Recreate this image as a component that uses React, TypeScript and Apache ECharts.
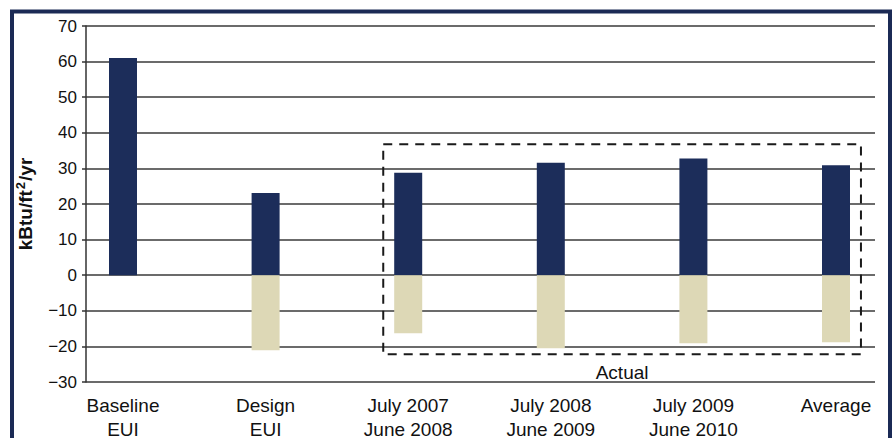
import React, { useEffect, useRef } from "react";
import * as echarts from "echarts";

const categories = ["Baseline\nEUI", "Design\nEUI", "July 2007\nJune 2008", "July 2008\nJune 2009", "July 2009\nJune 2010", "Average"];
const positiveValues = [61, 23.1, 28.8, 31.6, 32.8, 30.9];
const negativeValues = [0, -21.1, -16.3, -20.5, -19.1, -18.8];
const yTicks = { min: -30, max: 70, interval: 10 };
// dashed "Actual" box: from category index, to category index, top value, bottom value
const actualBox = [[2, 5, 36.8, -22.2]];
const actualLabel = "Actual";

const FONT = '"Liberation Sans", Arial, Helvetica, sans-serif';

export default function App() {
  const ref = useRef<HTMLDivElement>(null);
  useEffect(() => {
    if (!ref.current) return;
    const chart = echarts.init(ref.current, null, { renderer: "svg" });
    const fmt = (v: number) => String(v).replace("-", "\u2212");
    chart.setOption({
      animation: false,
      backgroundColor: "#ffffff",
      textStyle: { fontFamily: FONT },
      grid: [
        { left: 86, right: 18, top: 26, bottom: 56, containLabel: false, outerBoundsMode: "none" },
        { left: 123, right: 57, top: 26, bottom: 56, containLabel: false, outerBoundsMode: "none" },
      ],
      xAxis: [
        { type: "category", gridIndex: 0, data: categories, show: false },
        {
          type: "category",
          gridIndex: 1,
          data: categories,
          boundaryGap: false,
          axisLine: { show: false },
          axisTick: { show: false },
          axisLabel: { color: "#111", fontSize: 19, lineHeight: 24, margin: 11, fontFamily: FONT, interval: 0 },
        },
      ],
      yAxis: [
        {
          type: "value",
          gridIndex: 0,
          min: yTicks.min,
          max: yTicks.max,
          interval: yTicks.interval,
          name: "{a|kBtu/ft}{b|2}{a|/yr}",
          nameLocation: "middle",
          nameGap: 50,
          nameTextStyle: {
            color: "#111",
            fontFamily: FONT,
            rich: {
              a: { fontSize: 19, fontWeight: "bold", fontFamily: FONT, color: "#111", lineHeight: 22 },
              b: { fontSize: 13, fontWeight: "bold", fontFamily: FONT, color: "#111", verticalAlign: "top", lineHeight: 22, padding: [0, 1, 8, 1] },
            },
          },
          axisLine: { show: true, lineStyle: { color: "#333", width: 1.5 } },
          axisTick: { show: true, length: 4, lineStyle: { color: "#333", width: 1.5 } },
          axisLabel: { color: "#111", fontSize: 17, margin: 9, formatter: fmt, fontFamily: FONT },
          splitLine: { show: true, lineStyle: { color: "#3a3a3a", width: 1.5 } },
        },
        {
          type: "value",
          gridIndex: 1,
          min: yTicks.min,
          max: yTicks.max,
          interval: yTicks.interval,
          show: false,
          splitLine: { show: false },
        },
      ],
      series: [
        {
          type: "bar",
          xAxisIndex: 1,
          yAxisIndex: 1,
          data: positiveValues,
          barWidth: 28,
          barGap: "-100%",
          clip: false,
          itemStyle: { color: "#1c2d5a" },
        },
        {
          type: "bar",
          xAxisIndex: 1,
          yAxisIndex: 1,
          data: negativeValues,
          barWidth: 28,
          barGap: "-100%",
          clip: false,
          itemStyle: { color: "#ddd8b6" },
        },
        {
          type: "custom",
          xAxisIndex: 1,
          yAxisIndex: 1,
          data: actualBox,
          encode: { x: [0, 1], y: [2, 3] },
          clip: false,
          z: 5,
          renderItem: (params: any, api: any) => {
            const p0 = api.coord([api.value(0), api.value(2)]);
            const p1 = api.coord([api.value(1), api.value(3)]);
            const step = api.coord([1, 0])[0] - api.coord([0, 0])[0];
            const x0 = p0[0] - 0.175 * step;
            const x1 = p1[0] + 0.175 * step;
            return {
              type: "group",
              children: [
                {
                  type: "rect",
                  shape: { x: x0, y: p0[1], width: x1 - x0, height: p1[1] - p0[1] },
                  style: { fill: "none", stroke: "#1a1a1a", lineWidth: 2, lineDash: [9, 7] },
                },
                {
                  type: "text",
                  x: (x0 + x1) / 2,
                  y: p1[1] + 18,
                  style: {
                    text: actualLabel,
                    align: "center",
                    verticalAlign: "middle",
                    fontSize: 19,
                    fontFamily: FONT,
                    fill: "#111",
                  },
                },
              ],
            };
          },
        },
      ],
      graphic: [
        {
          type: "rect",
          shape: { x: 12, y: 11.5, width: 878, height: 500 },
          style: { fill: "none", stroke: "#1b2a55", lineWidth: 4 },
          silent: true,
        },
      ],
    });
    return () => chart.dispose();
  }, []);
  return <div ref={ref} style={{ position: "fixed", left: 0, top: 0, width: 893, height: 438 }} />;
}
